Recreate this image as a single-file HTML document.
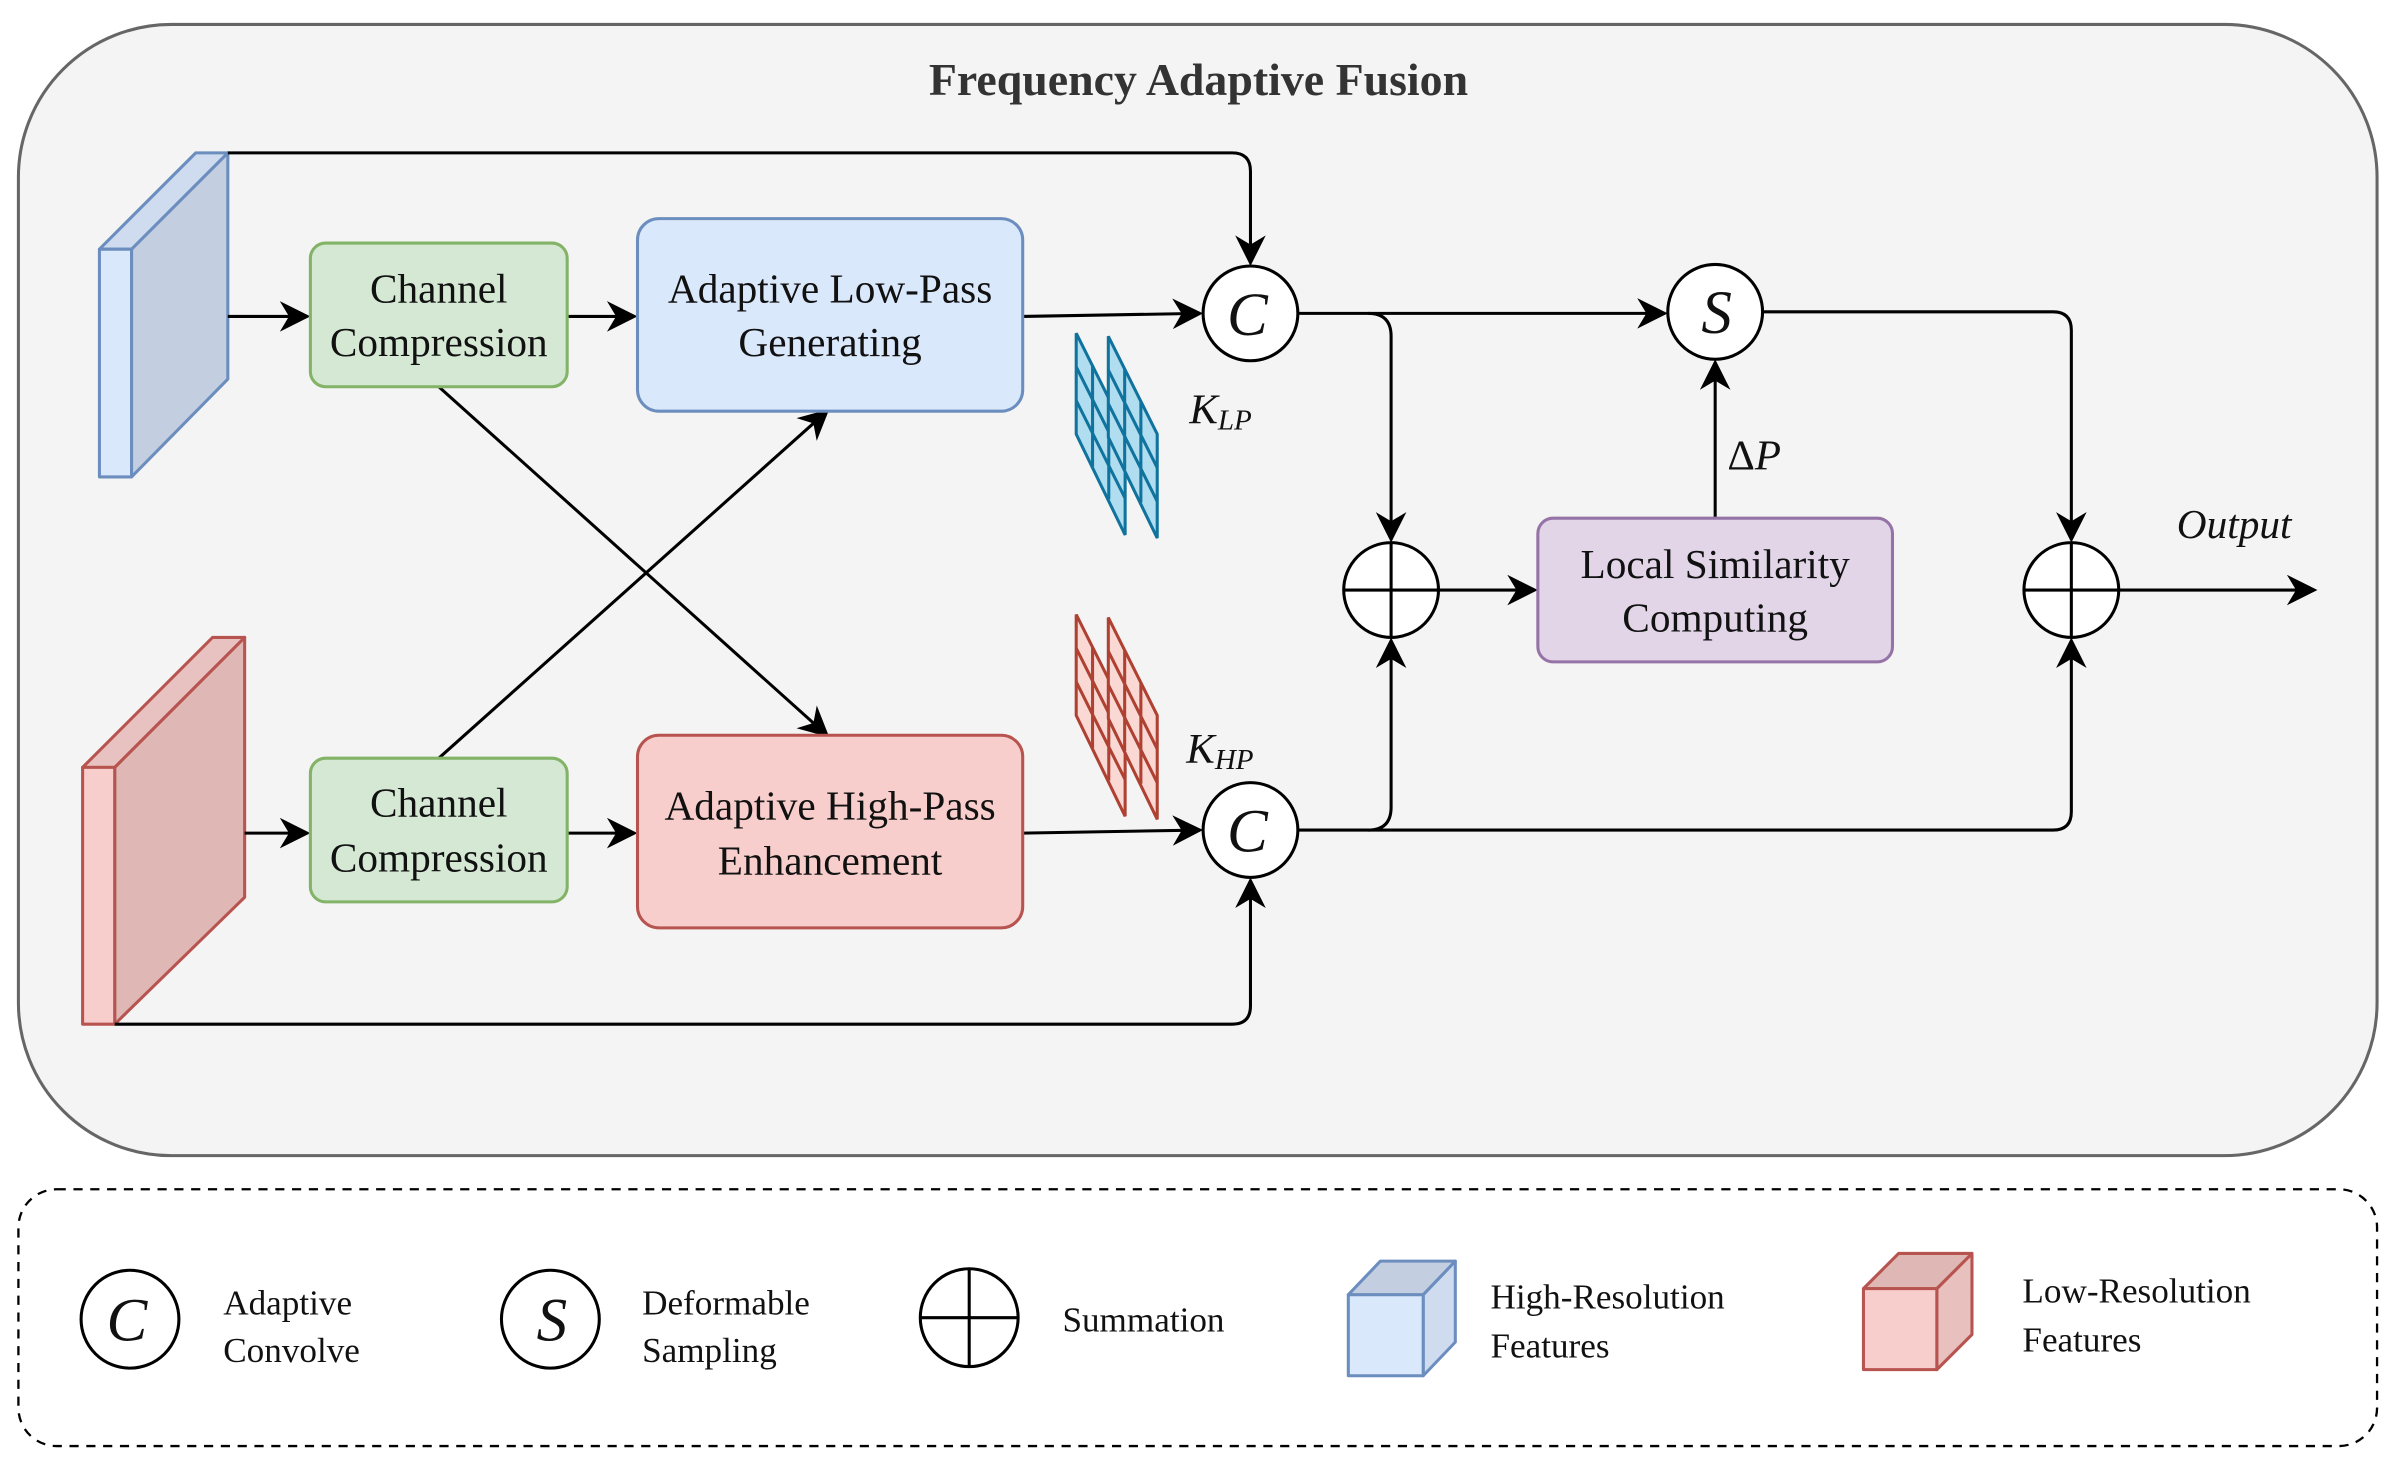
<!DOCTYPE html>
<html><head><meta charset="utf-8"><style>
html,body{margin:0;padding:0;background:#fff;}
svg{display:block;font-family:"Liberation Serif","Times New Roman","DejaVu Serif",serif;}
svg text{font-family:"Liberation Serif","Times New Roman","DejaVu Serif",serif;fill:#111;}
</style></head><body>
<svg width="2397" height="1469" viewBox="0 0 1568 961" xmlns="http://www.w3.org/2000/svg" font-family="Liberation Serif, Times New Roman, DejaVu Serif, serif">
<defs>
<marker id="b" viewBox="0 0 10 10" refX="9" refY="5" markerWidth="20" markerHeight="20" markerUnits="userSpaceOnUse" orient="auto"><path d="M0,0 L10,5 L0,10 L3,5 Z" fill="#000"/></marker>
</defs>
<rect width="1568" height="961" fill="#fff"/>
<rect x="12" y="16" width="1543" height="740" rx="100" fill="#f4f4f4" stroke="#666" stroke-width="2"/>
<text x="784" y="62" font-size="30" font-weight="bold" text-anchor="middle" style="fill:#333">Frequency Adaptive Fusion</text>

<g stroke="#6c8ebf" stroke-width="2" stroke-linejoin="round">
<path d="M86,163 L149,100 L149,248 L86,312 Z" fill="#c3cfe0"/>
<path d="M65,163 L128,100 L149,100 L86,163 Z" fill="#cfdcef"/>
<rect x="65" y="163" width="21" height="149" fill="#dae8fc"/>
</g>
<g stroke="#b85450" stroke-width="2" stroke-linejoin="round">
<path d="M75,502 L160,417 L160,587 L75,670 Z" fill="#dfb8b6"/>
<path d="M54,502 L139,417 L160,417 L75,502 Z" fill="#e8c2c0"/>
<rect x="54" y="502" width="21" height="168" fill="#f8cecc"/>
</g>

<g stroke="#000" stroke-width="2" fill="none">
<path d="M149,100 H806 Q818,100 818,112 V172" marker-end="url(#b)"/>
<path d="M149,207 H201" marker-end="url(#b)"/>
<path d="M371,207 H415" marker-end="url(#b)"/>
<path d="M669,207 L785,205" marker-end="url(#b)"/>
<path d="M287,253 L541,481" marker-end="url(#b)"/>
<path d="M287,496 L541,269" marker-end="url(#b)"/>
<path d="M160,545 H201" marker-end="url(#b)"/>
<path d="M371,545 H415" marker-end="url(#b)"/>
<path d="M669,545 L785,543" marker-end="url(#b)"/>
<path d="M75,670 H806 Q818,670 818,658 V576" marker-end="url(#b)"/>
<path d="M849,205 H1089" marker-end="url(#b)"/>
<path d="M895,205 Q910,205 910,220 V353" marker-end="url(#b)"/>
<path d="M849,543 H1343 Q1355,543 1355,531 V419" marker-end="url(#b)"/>
<path d="M895,543 Q910,543 910,528 V419" marker-end="url(#b)"/>
<path d="M941,386 H1004" marker-end="url(#b)"/>
<path d="M1122,339 V237" marker-end="url(#b)"/>
<path d="M1153,204 H1343 Q1355,204 1355,216 V353" marker-end="url(#b)"/>
<path d="M1386,386 H1514" marker-end="url(#b)"/>
</g>

<rect x="203" y="159" width="168" height="94" rx="10" fill="#d5e8d4" stroke="#82b366" stroke-width="2"/>
<rect x="203" y="496" width="168" height="94" rx="10" fill="#d5e8d4" stroke="#82b366" stroke-width="2"/>
<rect x="417" y="143" width="252" height="126" rx="14" fill="#dae8fc" stroke="#6c8ebf" stroke-width="2"/>
<rect x="417" y="481" width="252" height="126" rx="14" fill="#f8cecc" stroke="#b85450" stroke-width="2"/>
<rect x="1006" y="339" width="232" height="94" rx="10" fill="#e1d5e7" stroke="#9673a6" stroke-width="2"/>
<g font-size="27" text-anchor="middle">
<text x="287" y="198">Channel</text><text x="287" y="233">Compression</text>
<text x="287" y="534">Channel</text><text x="287" y="570">Compression</text>
<text x="543" y="198">Adaptive Low-Pass</text><text x="543" y="233">Generating</text>
<text x="543" y="536">Adaptive High-Pass</text><text x="543" y="572">Enhancement</text>
<text x="1122" y="378">Local Similarity</text><text x="1122" y="413">Computing</text>
</g>

<g stroke="#000" stroke-width="2" fill="#fff">
<circle cx="818" cy="205" r="31"/><circle cx="818" cy="543" r="31"/>
<circle cx="1122" cy="204" r="31"/>
<circle cx="910" cy="386" r="31"/><circle cx="1355" cy="386" r="31"/>
<path d="M879,386 H941 M910,355 V417 M1324,386 H1386 M1355,355 V417" fill="none"/>
</g>
<g font-size="40" font-style="italic" text-anchor="middle">
<text x="816" y="219">C</text><text x="816" y="557">C</text><text x="1123" y="218">S</text>
</g>

<g stroke="#10739e" stroke-width="2" fill="#b1ddf0">
<path d="M704,218 L736,282 L736,350 L704,284 Z"/>
<path d="M714.7,239.3 V305.3 M725.3,260.7 V326.7 M704,240 L736,304 M704,262 L736,326" fill="none"/>
<path d="M725,220 L757,284 L757,352 L725,286 Z"/>
<path d="M735.7,241.3 V307.3 M746.3,262.7 V328.7 M725,242 L757,306 M725,264 L757,328" fill="none"/>
</g>
<g stroke="#ae4132" stroke-width="2" fill="#fad9d5">
<path d="M704,402 L736,466 L736,534 L704,468 Z"/>
<path d="M714.7,423.3 V489.3 M725.3,444.7 V510.7 M704,424 L736,488 M704,446 L736,510" fill="none"/>
<path d="M725,404 L757,468 L757,536 L725,470 Z"/>
<path d="M735.7,425.3 V491.3 M746.3,446.7 V512.7 M725,426 L757,490 M725,448 L757,512" fill="none"/>
</g>
<text x="778" y="277" font-size="28" font-style="italic">K<tspan font-size="19" dy="4">LP</tspan></text>
<text x="776" y="499" font-size="28" font-style="italic">K<tspan font-size="19" dy="4">HP</tspan></text>
<text x="1130" y="307" font-size="28">Δ<tspan font-style="italic">P</tspan></text>
<text x="1424" y="352" font-size="27" font-style="italic">Output</text>

<rect x="12" y="778" width="1543" height="168" rx="25" fill="#fff" stroke="#000" stroke-width="1.5" stroke-dasharray="6,5"/>
<g stroke="#000" stroke-width="2" fill="#fff">
<circle cx="85" cy="863" r="32"/><circle cx="360" cy="863" r="32"/><circle cx="634" cy="862" r="32"/>
<path d="M602,862 H666 M634,830 V894" fill="none"/>
</g>
<g font-size="40" font-style="italic" text-anchor="middle">
<text x="83" y="877">C</text><text x="361" y="877">S</text>
</g>
<g font-size="23">
<text x="146" y="860">Adaptive</text><text x="146" y="891">Convolve</text>
<text x="420" y="860">Deformable</text><text x="420" y="891">Sampling</text>
<text x="695" y="871">Summation</text>
<text x="975" y="856">High-Resolution</text><text x="975" y="888">Features</text>
<text x="1323" y="852">Low-Resolution</text><text x="1323" y="884">Features</text>
</g>
<g stroke="#6c8ebf" stroke-width="2" stroke-linejoin="round">
<path d="M931,847 L952,825 L952,878 L931,900 Z" fill="#cfdcef"/>
<path d="M882,847 L903,825 L952,825 L931,847 Z" fill="#c3cfe0"/>
<rect x="882" y="847" width="49" height="53" fill="#dae8fc"/>
</g>
<g stroke="#b85450" stroke-width="2" stroke-linejoin="round">
<path d="M1267,843 L1290,820 L1290,873 L1267,896 Z" fill="#e8c0be"/>
<path d="M1219,843 L1242,820 L1290,820 L1267,843 Z" fill="#dfb8b6"/>
<rect x="1219" y="843" width="48" height="53" fill="#f8cecc"/>
</g>
</svg>
</body></html>
